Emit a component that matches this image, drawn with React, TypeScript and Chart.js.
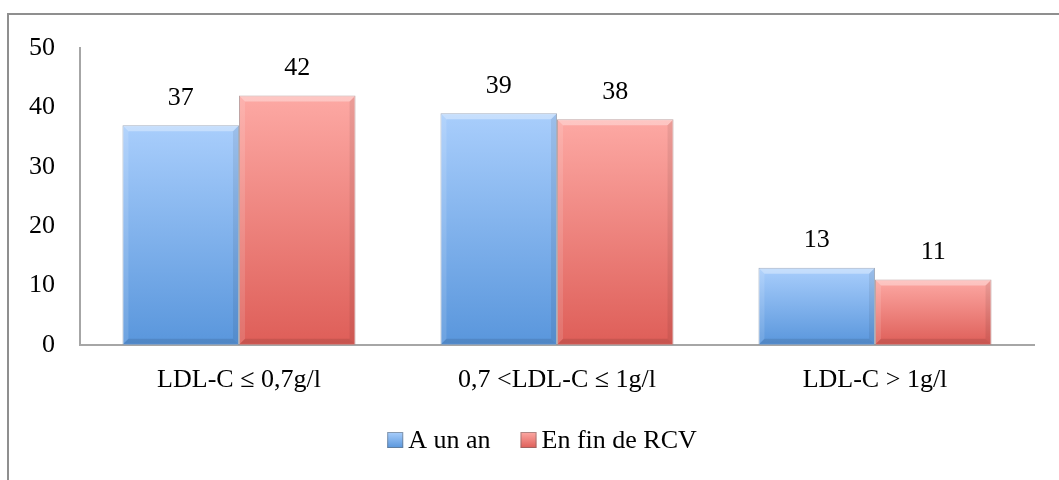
import React, { useEffect, useRef } from "react";
import { Chart, registerables } from "chart.js";

Chart.register(...registerables);

const categories = ["LDL-C ≤ 0,7g/l", "0,7 <LDL-C ≤ 1g/l", "LDL-C > 1g/l"];
const seriesNames = ["A un an", "En fin de RCV"];
const aUnAn = [37, 39, 13];
const enFinDeRCV = [42, 38, 11];
const yMin = 0;
const yMax = 50;
const yStep = 10;

const FONT = '"Liberation Serif", "Times New Roman", serif';
const FONT_SIZE = 26;

const BLUE_TOP = "#a9cefc";
const BLUE_BOTTOM = "#5996dc";
const RED_TOP = "#fda9a4";
const RED_BOTTOM = "#de5e58";

function gradientFill(top: string, bottom: string) {
  return (ctx: any) => {
    const chart = ctx.chart;
    const y = chart.scales && chart.scales.y;
    if (ctx.type !== "data" || !y || ctx.raw == null) return top;
    const yTop = y.getPixelForValue(ctx.raw);
    const yBase = y.getPixelForValue(0);
    if (!isFinite(yTop) || !isFinite(yBase) || yTop === yBase) return top;
    const g = chart.ctx.createLinearGradient(0, yTop, 0, yBase);
    g.addColorStop(0, top);
    g.addColorStop(1, bottom);
    return g;
  };
}

const bevelPlugin = {
  id: "bevel",
  afterDatasetsDraw(chart: any) {
    const ctx = chart.ctx;
    chart.data.datasets.forEach((_: any, di: number) => {
      const meta = chart.getDatasetMeta(di);
      meta.data.forEach((el: any) => {
        const { x, y, base, width } = el.getProps(["x", "y", "base", "width"], true);
        const l = x - width / 2;
        const r = x + width / 2;
        const b = 6;
        ctx.save();
        ctx.fillStyle = "rgba(255,255,255,0.35)";
        ctx.beginPath();
        ctx.moveTo(l + 1, y + 1);
        ctx.lineTo(r - 1, y + 1);
        ctx.lineTo(r - b, y + b);
        ctx.lineTo(l + b, y + b);
        ctx.closePath();
        ctx.fill();
        ctx.fillStyle = "rgba(255,255,255,0.12)";
        ctx.beginPath();
        ctx.moveTo(l + 1, y + 1);
        ctx.lineTo(l + b, y + b);
        ctx.lineTo(l + b, base - b);
        ctx.lineTo(l + 1, base - 1);
        ctx.closePath();
        ctx.fill();
        ctx.fillStyle = "rgba(0,0,0,0.07)";
        ctx.beginPath();
        ctx.moveTo(r - 1, y + 1);
        ctx.lineTo(r - b, y + b);
        ctx.lineTo(r - b, base - b);
        ctx.lineTo(r - 1, base - 1);
        ctx.closePath();
        ctx.fill();
        ctx.fillStyle = "rgba(0,0,0,0.10)";
        ctx.beginPath();
        ctx.moveTo(l + 1, base - 1);
        ctx.lineTo(r - 1, base - 1);
        ctx.lineTo(r - b, base - b);
        ctx.lineTo(l + b, base - b);
        ctx.closePath();
        ctx.fill();
        ctx.restore();
      });
    });
  },
};

const dataLabelPlugin = {
  id: "dataLabels",
  afterDatasetsDraw(chart: any) {
    const ctx = chart.ctx;
    ctx.save();
    ctx.font = `${FONT_SIZE}px ${FONT}`;
    ctx.fillStyle = "#000";
    ctx.textAlign = "center";
    ctx.textBaseline = "middle";
    chart.data.datasets.forEach((ds: any, di: number) => {
      const meta = chart.getDatasetMeta(di);
      meta.data.forEach((el: any, i: number) => {
        ctx.fillText(String(ds.data[i]), el.x, el.y - 27);
      });
    });
    ctx.restore();
  },
};

const legendPlugin = {
  id: "customLegend",
  afterDraw(chart: any) {
    const ctx = chart.ctx;
    const colors = [
      [BLUE_TOP, BLUE_BOTTOM],
      [RED_TOP, RED_BOTTOM],
    ];
    const box = 16;
    const gap = 5;
    const itemGap = 30;
    ctx.save();
    ctx.font = `${FONT_SIZE}px ${FONT}`;
    const widths = chart.data.datasets.map((ds: any) => ctx.measureText(ds.label).width);
    const total =
      widths.reduce((a: number, w: number) => a + box + gap + w, 0) + itemGap * (widths.length - 1);
    const cx = (chart.chartArea.left + chart.chartArea.right) / 2 - 15;
    const cy = chart.height - 40;
    let x = cx - total / 2;
    chart.data.datasets.forEach((ds: any, i: number) => {
      const g = ctx.createLinearGradient(0, cy - box / 2, 0, cy + box / 2);
      g.addColorStop(0, colors[i][0]);
      g.addColorStop(1, colors[i][1]);
      ctx.fillStyle = g;
      ctx.fillRect(x, cy - box / 2, box, box);
      ctx.strokeStyle = "rgba(100,100,100,0.5)";
      ctx.lineWidth = 1;
      ctx.strokeRect(x + 0.5, cy - box / 2 + 0.5, box - 1, box - 1);
      ctx.fillStyle = "#000";
      ctx.textAlign = "left";
      ctx.textBaseline = "middle";
      ctx.fillText(ds.label, x + box + gap, cy + 1);
      x += box + gap + widths[i] + itemGap;
    });
    ctx.restore();
  },
};

export default function App() {
  const canvasRef = useRef<HTMLCanvasElement | null>(null);

  useEffect(() => {
    if (!canvasRef.current) return;
    const chart = new Chart(canvasRef.current, {
      type: "bar",
      data: {
        labels: categories,
        datasets: [
          {
            label: seriesNames[0],
            data: aUnAn,
            backgroundColor: gradientFill(BLUE_TOP, BLUE_BOTTOM),
            borderColor: "rgba(90,110,140,0.55)",
            borderWidth: 1,
            categoryPercentage: 0.733,
            barPercentage: 1,
          },
          {
            label: seriesNames[1],
            data: enFinDeRCV,
            backgroundColor: gradientFill(RED_TOP, RED_BOTTOM),
            borderColor: "rgba(140,90,90,0.55)",
            borderWidth: 1,
            categoryPercentage: 0.733,
            barPercentage: 1,
          },
        ],
      },
      options: {
        responsive: false,
        animation: false,
        layout: { padding: { left: 0, right: 25, top: 48, bottom: 64 } },
        plugins: {
          legend: { display: false },
          tooltip: { enabled: false },
        },
        scales: {
          x: {
            grid: { display: false, drawTicks: false },
            border: { display: true, color: "#a6a6a6", width: 2 },
            ticks: {
              color: "#000",
              font: { family: FONT, size: FONT_SIZE },
              padding: 20,
              maxRotation: 0,
            },
          },
          y: {
            min: yMin,
            max: yMax,
            grid: { display: false, drawTicks: false },
            border: { display: true, color: "#a6a6a6", width: 2 },
            ticks: {
              stepSize: yStep,
              color: "#000",
              font: { family: FONT, size: FONT_SIZE },
              padding: 25,
            },
            afterFit(scale: any) {
              scale.width = 80;
            },
          },
        },
      },
      plugins: [bevelPlugin, dataLabelPlugin, legendPlugin],
    });
    return () => chart.destroy();
  }, []);

  return (
    <div
      style={{
        position: "fixed",
        left: 0,
        top: 0,
        width: 1059,
        height: 480,
        overflow: "hidden",
        background: "#fff",
      }}
    >
      <div
        style={{
          position: "absolute",
          left: 7,
          top: 13,
          width: 1100,
          height: 520,
          border: "2px solid #8f8f8f",
          boxSizing: "border-box",
        }}
      />
      <canvas
        ref={canvasRef}
        width={1059}
        height={480}
        style={{ position: "absolute", left: 0, top: 0, width: 1059, height: 480 }}
      />
    </div>
  );
}
